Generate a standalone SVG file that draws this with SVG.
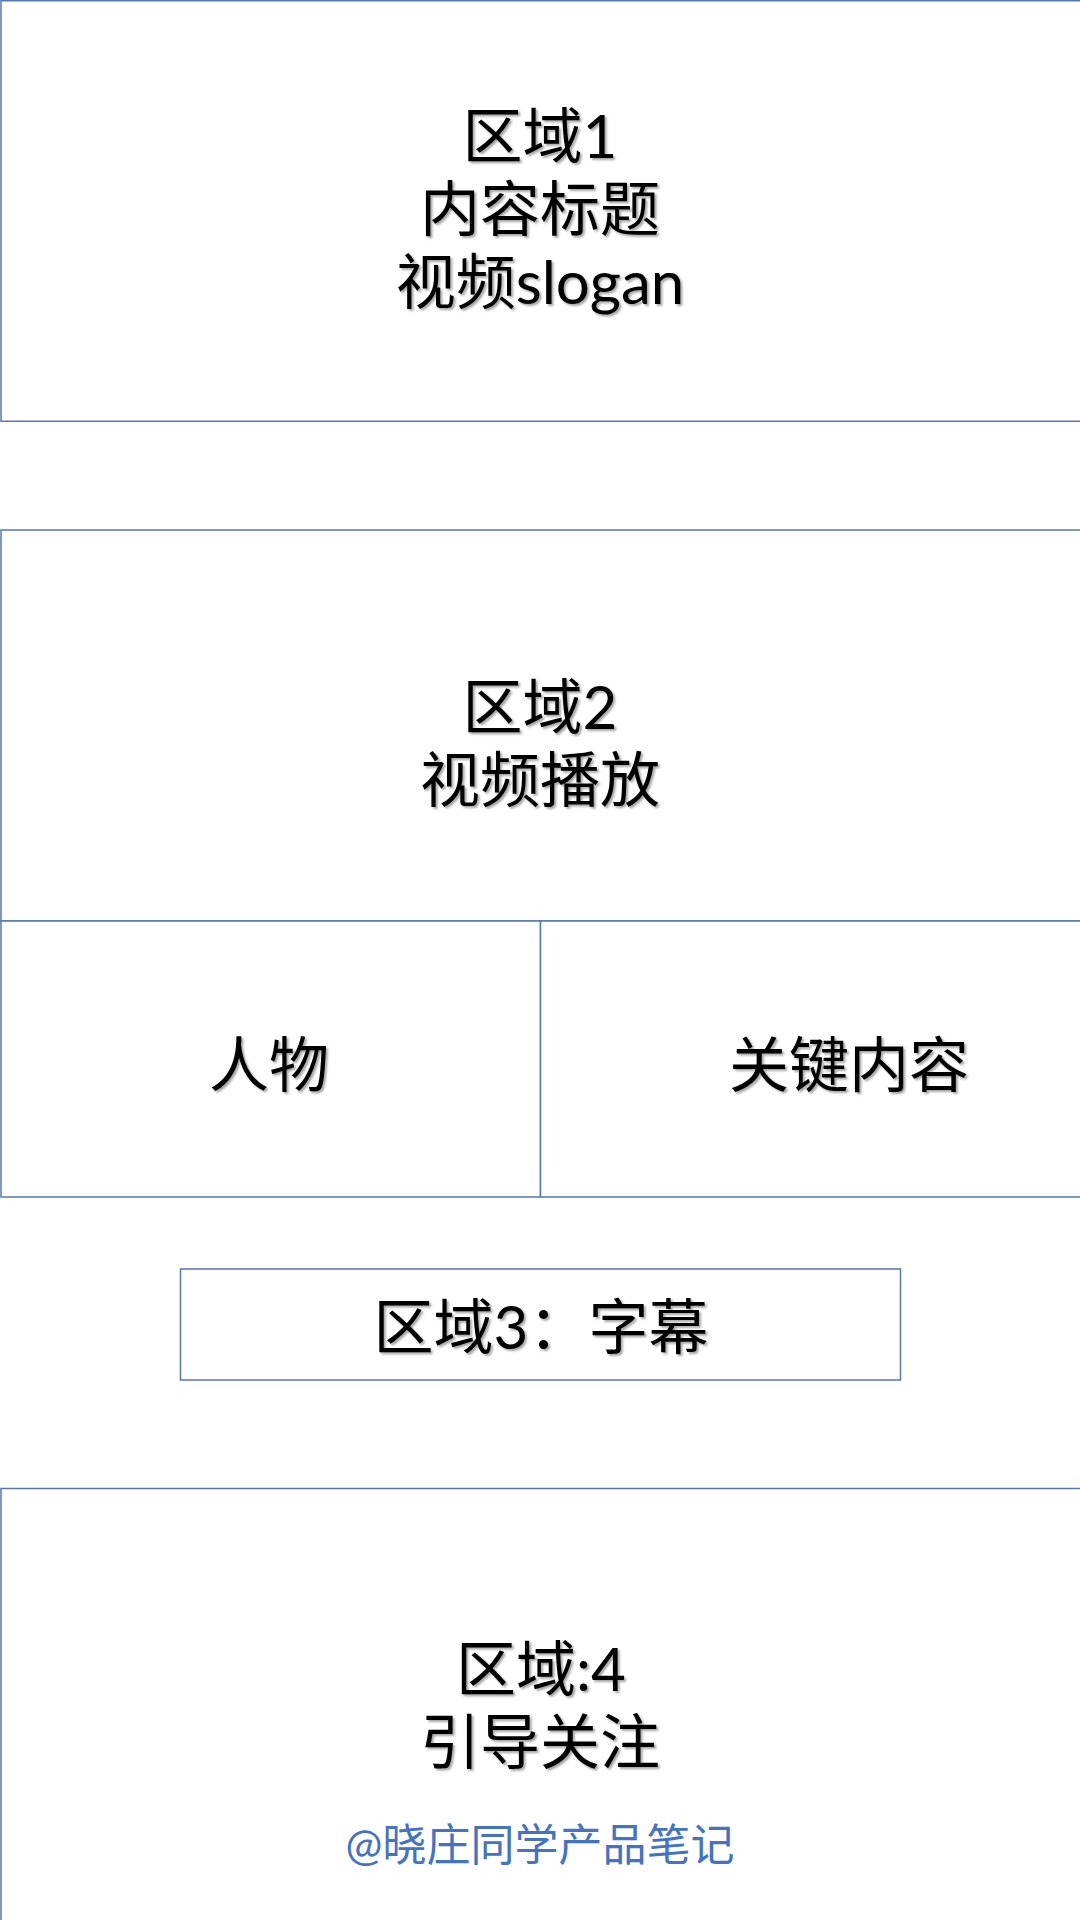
<svg xmlns="http://www.w3.org/2000/svg" width="1080" height="1920" viewBox="0 0 1080 1920">
  <defs>
    <filter id="sh" x="-10%" y="-10%" width="120%" height="130%">
      <feDropShadow dx="2" dy="2" stdDeviation="1" flood-color="#000" flood-opacity="0.35"/>
    </filter>
    <style>
      .box { fill: #ffffff; stroke: #5577b2; stroke-width: 1.5; }
      .t { font-family: Lato, "Noto Sans CJK SC", sans-serif; font-size: 60px; fill: #000; text-anchor: middle; filter: url(#sh); }
      .wm { font-family: Lato, "Noto Sans CJK SC", sans-serif; font-size: 44px; fill: #4472c4; text-anchor: middle; }
    </style>
  </defs>
  <rect width="1080" height="1920" fill="#ffffff"/>

  <g id="region1">
    <rect class="box" x="1" y="0.75" width="1200" height="420.5"/>
    <text class="t" x="540" y="158">区域1</text>
    <text class="t" x="540" y="231">内容标题</text>
    <text class="t" x="540" y="304">视频slogan</text>
  </g>

  <g id="region2">
    <rect class="box" x="1" y="530" width="1200" height="391"/>
    <text class="t" x="540" y="729">区域2</text>
    <text class="t" x="540" y="802">视频播放</text>
  </g>

  <g id="person">
    <rect class="box" x="1" y="921" width="539.5" height="276"/>
    <text class="t" x="269" y="1087">人物</text>
  </g>

  <g id="keycontent">
    <rect class="box" x="540.5" y="921" width="660" height="276"/>
    <text class="t" x="849" y="1087">关键内容</text>
  </g>

  <g id="region3">
    <rect class="box" x="180.5" y="1269" width="720" height="111"/>
    <text class="t" x="541" y="1349">区域3：字幕</text>
  </g>

  <g id="region4">
    <rect class="box" x="1" y="1488.5" width="1200" height="500"/>
    <text class="t" x="541" y="1691">区域:4</text>
    <text class="t" x="540" y="1764">引导关注</text>
    <text class="wm" x="540" y="1861">@晓庄同学产品笔记</text>
  </g>

  <g id="connectors"/>
</svg>
